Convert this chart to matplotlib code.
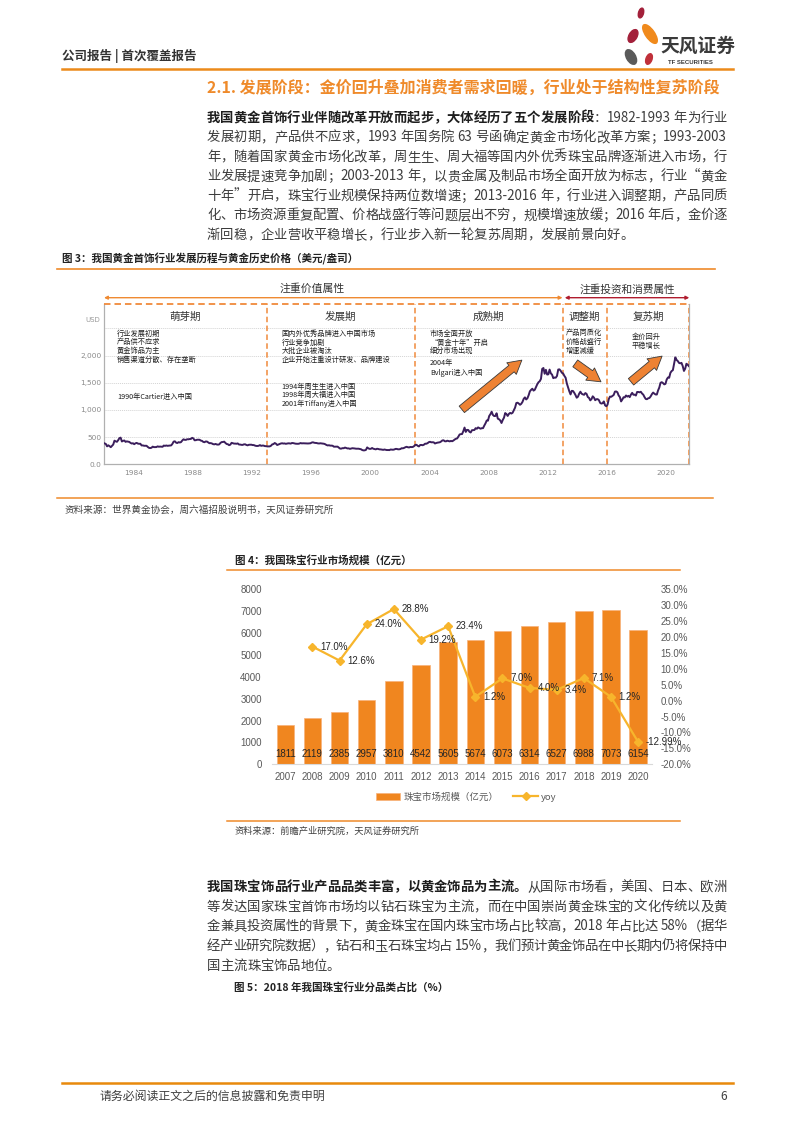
import numpy as np
import matplotlib
matplotlib.use('Agg')
import matplotlib.pyplot as plt
from matplotlib.lines import Line2D
from matplotlib.patches import Ellipse, Rectangle
from matplotlib import font_manager as fm
from matplotlib.ft2font import FT2Font

W, H = 793, 1122
CJK = ['Noto Sans CJK SC', 'DejaVu Sans']
plt.rcParams['font.family'] = CJK
plt.rcParams['axes.unicode_minus'] = False

# ---------------- data: figure 3 (gold price, USD/oz, monthly from Jan 1982) ----------------
gold_start_year = 1982
gold_price = [
    384, 374, 330, 350, 334, 315, 339, 364, 435, 422, 414, 444,
    481, 491, 420, 432, 438, 413, 422, 416, 412, 394, 382, 388,
    370, 386, 394, 381, 377, 378, 347, 348, 341, 340, 341, 320,
    303, 299, 304, 325, 316, 317, 317, 330, 323, 326, 325, 322,
    345, 339, 346, 340, 342, 343, 348, 376, 418, 423, 398, 391,
    408, 401, 409, 438, 460, 450, 450, 461, 460, 465, 467, 487,
    477, 442, 444, 452, 451, 452, 437, 431, 413, 406, 420, 419,
    404, 388, 390, 384, 371, 367, 375, 365, 362, 367, 394, 409,
    410, 417, 393, 374, 369, 352, 362, 395, 389, 381, 381, 378,
    384, 364, 363, 358, 357, 367, 368, 356, 349, 359, 360, 361,
    354, 354, 344, 338, 337, 341, 353, 340, 345, 344, 335, 334,
    329, 329, 330, 342, 367, 372, 392, 379, 355, 364, 373, 383,
    387, 382, 384, 377, 381, 386, 385, 381, 392, 390, 384, 379,
    379, 377, 382, 391, 385, 387, 386, 383, 383, 383, 386, 387,
    400, 405, 397, 393, 392, 385, 383, 387, 383, 381, 378, 369,
    355, 347, 351, 344, 344, 341, 324, 324, 323, 325, 306, 289,
    289, 297, 296, 308, 299, 292, 293, 284, 289, 296, 294, 291,
    287, 288, 287, 282, 277, 262, 256, 257, 265, 311, 293, 284,
    285, 300, 286, 280, 275, 286, 282, 275, 274, 270, 266, 272,
    266, 262, 263, 261, 272, 270, 268, 273, 283, 283, 276, 276,
    282, 296, 294, 302, 314, 322, 314, 310, 319, 317, 319, 333,
    357, 359, 340, 329, 355, 356, 351, 360, 379, 379, 389, 407,
    414, 405, 406, 404, 383, 392, 398, 401, 406, 420, 439, 442,
    424, 423, 434, 429, 422, 430, 424, 438, 456, 470, 476, 510,
    549, 555, 557, 610, 676, 596, 633, 632, 598, 586, 627, 629,
    631, 665, 654, 679, 667, 655, 665, 665, 712, 754, 806, 803,
    889, 922, 968, 909, 888, 889, 939, 839, 829, 806, 760, 816,
    858, 943, 924, 890, 928, 946, 934, 949, 996, 1043, 1127, 1134,
    1118, 1095, 1113, 1148, 1205, 1232, 1193, 1215, 1271, 1343, 1370, 1391,
    1356, 1372, 1424, 1473, 1510, 1529, 1572, 1756, 1772, 1666, 1739, 1652,
    1656, 1743, 1674, 1650, 1585, 1596, 1594, 1626, 1744, 1747, 1721, 1684,
    1671, 1627, 1593, 1487, 1414, 1343, 1286, 1352, 1349, 1316, 1275, 1225,
    1244, 1300, 1336, 1299, 1287, 1279, 1311, 1296, 1238, 1222, 1176, 1200,
    1251, 1227, 1179, 1198, 1199, 1181, 1131, 1117, 1125, 1157, 1086, 1068,
    1097, 1200, 1246, 1242, 1260, 1276, 1337, 1341, 1326, 1267, 1238, 1157,
    1192, 1234, 1231, 1267, 1246, 1260, 1236, 1283, 1315, 1280, 1282, 1265,
    1331, 1331, 1325, 1335, 1303, 1282, 1238, 1202, 1198, 1215, 1221, 1250,
    1291, 1320, 1300, 1285, 1284, 1359, 1413, 1500, 1511, 1495, 1471, 1480,
    1560, 1597, 1592, 1683, 1716, 1732, 1846, 1968, 1921, 1900, 1866, 1858,
    1867, 1808, 1718, 1760, 1850, 1834, 1807,
]
gold_xticks = [1984, 1988, 1992, 1996, 2000, 2004, 2008, 2012, 2016, 2020]
gold_yticks = [0, 500, 1000, 1500, 2000, 2500]
gold_ylabels = ['0.0', '500', '1,000', '1,500', '2,000', '']
stage_bounds = [1993, 2003, 2013, 2016]
stage_names = ['萌芽期', '发展期', '成熟期', '调整期', '复苏期']

# ---------------- data: figure 4 ----------------
years4 = ['2007', '2008', '2009', '2010', '2011', '2012', '2013', '2014',
          '2015', '2016', '2017', '2018', '2019', '2020']
market = [1811, 2119, 2385, 2957, 3810, 4542, 5605, 5674, 6073, 6314, 6527, 6988, 7073, 6154]
yoy_years = years4[1:]
yoy = [17.0, 12.6, 24.0, 28.8, 19.2, 23.4, 1.2, 7.0, 4.0, 3.4, 7.1, 1.2, -12.99]
yoy_labels = ['17.0%', '12.6%', '24.0%', '28.8%', '19.2%', '23.4%', '1.2%', '7.0%',
              '4.0%', '3.4%', '7.1%', '1.2%', '-12.99%']

ORANGE = '#ef8a2a'
DASH_OR = '#f08a3c'

fig = plt.figure(figsize=(W / 100, H / 100), dpi=100)


def fx(px):
    return px / W


def fy(py):
    return 1 - py / H


def hline(x0, x1, y, color, lw):
    fig.add_artist(Line2D([fx(x0), fx(x1)], [fy(y), fy(y)], color=color, lw=lw,
                          transform=fig.transFigure))


# ---------------- text justification helpers ----------------
try:
    from matplotlib.ft2font import LoadFlags
    NOHINT = LoadFlags.NO_HINTING
except Exception:
    NOHINT = 2

_fonts = {}


def _font(weight):
    if weight not in _fonts:
        path = fm.findfont(fm.FontProperties(family='Noto Sans CJK SC', weight=weight))
        _fonts[weight] = FT2Font(path)
    return _fonts[weight]


def adv(text, size, weight):
    f = _font(weight)
    f.set_size(size, 100)
    tot = 0.0
    for ch in text:
        try:
            g = f.load_char(ord(ch), flags=NOHINT)
            tot += g.linearHoriAdvance / 65536.0
        except Exception:
            tot += size * 100 / 72 * 0.5
    return tot


def tokens(segs):
    out = []
    for text, weight, color in segs:
        buf = ''
        for ch in text:
            if ch == ' ':
                if buf:
                    out.append((buf, weight, color))
                    buf = ''
                out.append((' ', weight, color))
            elif ord(ch) < 128:
                buf += ch
            else:
                if buf:
                    out.append((buf, weight, color))
                    buf = ''
                out.append((ch, weight, color))
        if buf:
            out.append((buf, weight, color))
    return out


def draw_line(segs, x0, x1, yc, size, justify=True):
    toks = tokens(segs)
    widths = [adv(t, size, w) for t, w, c in toks]
    total = sum(widths)
    n = len(toks)
    gap = (x1 - x0 - total) / (n - 1) if (justify and n > 1) else 0.0
    base = yc + 0.36 * size * 100 / 72
    x = x0
    for (t, w, c), wd in zip(toks, widths):
        if t != ' ':
            fig.text(fx(x), fy(base), t, fontsize=size, fontweight=w, color=c,
                     va='baseline', ha='left')
        x += wd + gap


BODY = '#3c3c3c'
BOLD = '#1e1e1e'

# ---------------- header ----------------
fig.text(fx(62), fy(56), '公司报告 | 首次覆盖报告', fontsize=9, fontweight='bold',
         color='#333333', va='center', ha='left')
hline(62, 733, 68.5, '#ec8a1a', 1.8)

lg = fig.add_axes([fx(618), fy(68), 40 / W, 62 / H])
lg.set_xlim(618, 658)
lg.set_ylim(68, 6)
lg.axis('off')
lg.add_patch(Ellipse((641, 13), 5, 10, angle=15, color='#a3203a'))
lg.add_patch(Ellipse((650, 34), 9, 22, angle=-35, color='#f08a1c'))
lg.add_patch(Ellipse((633, 36), 8, 14, angle=30, color='#a3203a'))
lg.add_patch(Ellipse((631, 57), 9, 16, angle=-30, color='#5a5a5a'))
lg.add_patch(Ellipse((649, 59), 6, 11, angle=20, color='#c0303a'))
fig.text(fx(660), fy(46), '天风证券', fontsize=13.5, fontweight='bold', color='#3a3a3a',
         va='center', ha='left')
fig.text(fx(668), fy(62), 'TF SECURITIES', fontsize=4.3, fontweight='bold', color='#3a3a3a',
         va='center', ha='left', family=['Liberation Sans', 'DejaVu Sans'])

# ---------------- section title & paragraph 1 ----------------
fig.text(fx(207), fy(88), '2.1. 发展阶段：金价回升叠加消费者需求回暖，行业处于结构性复苏阶段',
         fontsize=11.5, fontweight='bold', color=ORANGE, va='center', ha='left')

para1 = [
    [('我国黄金首饰行业伴随改革开放而起步，大体经历了五个发展阶段', 'bold', BOLD),
     ('：1982-1993 年为行业', 'normal', BODY)],
    [('发展初期，产品供不应求，1993 年国务院 63 号函确定黄金市场化改革方案；1993-2003', 'normal', BODY)],
    [('年，随着国家黄金市场化改革，周生生、周大福等国内外优秀珠宝品牌逐渐进入市场，行', 'normal', BODY)],
    [('业发展提速竞争加剧；2003-2013 年，以贵金属及制品市场全面开放为标志，行业“黄金', 'normal', BODY)],
    [('十年”开启，珠宝行业规模保持两位数增速；2013-2016 年，行业进入调整期，产品同质', 'normal', BODY)],
    [('化、市场资源重复配置、价格战盛行等问题层出不穷，规模增速放缓；2016 年后，金价逐', 'normal', BODY)],
    [('渐回稳，企业营收平稳增长，行业步入新一轮复苏周期，发展前景向好。', 'normal', BODY)],
]
for i, segs in enumerate(para1):
    draw_line(segs, 207, 727, 117 + i * 19.5, 9.6, justify=(i < len(para1) - 1))

# ---------------- figure 3 ----------------
fig.text(fx(62), fy(259), '图 3：我国黄金首饰行业发展历程与黄金历史价格（美元/盎司）',
         fontsize=7.6, fontweight='bold', color='#222222', va='center', ha='left')
hline(57, 715, 269, ORANGE, 1.2)

ax = fig.add_axes([fx(104), fy(464.3), (689.3 - 104) / W, (464.3 - 304) / H])
gold_x = gold_start_year + (np.arange(len(gold_price)) + 0.5) / 12.0
XL, XR, YT = 1982.0, 2021.57, 2950
ax.set_xlim(XL, XR)
ax.set_ylim(0, YT)
ax.plot(gold_x, gold_price, color='#3b1e5c', lw=1.4, zorder=4)
ax.set_xticks(gold_xticks)
ax.set_xticklabels([str(t) for t in gold_xticks])
ax.set_yticks(gold_yticks)
ax.set_yticklabels(gold_ylabels)
ax.tick_params(length=0, labelsize=5.3, labelcolor='#8a8a8a')
ax.tick_params(axis='y', pad=1.7)
ax.tick_params(axis='x', pad=3.9)
for lab in ax.get_xticklabels() + ax.get_yticklabels():
    lab.set_family(['DejaVu Sans'])
ax.grid(axis='y', color='#d4d4d4', lw=0.7, linestyle=(0, (1, 1)))
ax.set_axisbelow(True)
for s in ['left', 'bottom', 'right']:
    ax.spines[s].set_color('#b0b0b0')
    ax.spines[s].set_linewidth(0.9)
ax.spines['top'].set_visible(False)
ax.vlines(stage_bounds + [XR], 0, YT, colors=DASH_OR, linestyles=(0, (3.6, 2.2)), lw=1.1, zorder=3)
ax.hlines(YT, XL, XR, colors=DASH_OR, linestyles=(0, (3.6, 2.2)), lw=1.3, clip_on=False, zorder=3)
ax.text(1981.77, 2653, 'USD', fontsize=5, color='#9a9a9a', ha='right', va='center',
        family=['DejaVu Sans'])

# top brackets
ax.annotate('', xy=(2013.0, 3066), xytext=(XL, 3066), annotation_clip=False,
            arrowprops=dict(arrowstyle='<|-|>', color='#ef8a32', lw=1.0, mutation_scale=5,
                            shrinkA=0, shrinkB=0))
ax.annotate('', xy=(XR, 3066), xytext=(2013.15, 3066), annotation_clip=False,
            arrowprops=dict(arrowstyle='<|-|>', color='#b01c2e', lw=1.0, mutation_scale=5,
                            shrinkA=0, shrinkB=0))
ax.text(1996.1, 3241, '注重价值属性', fontsize=7.8, color='#333333', ha='center', va='center')
ax.text(2017.4, 3215, '注重投资和消费属性', fontsize=7.7, color='#333333', ha='center', va='center')

# stage names
bounds = [XL] + stage_bounds + [XR]
for i, nm in enumerate(stage_names):
    ax.text((bounds[i] + bounds[i + 1]) / 2, 2708, nm, fontsize=7.6, color='#333333',
            ha='center', va='center')

SM = 5.2
TX = '#1e1e1e'


def block(x, ys, lines, ha='left'):
    for yv, s in zip(ys, lines):
        ax.text(x, yv, s, fontsize=SM, color=TX, ha=ha, va='center')


rows4 = [2408, 2243, 2083, 1917]
block(1982.85, rows4, ['行业发展初期', '产品供不应求', '黄金饰品为主', '销售渠道分散、存在垄断'])
block(1982.9, [1237], ['1990年Cartier进入中国'])
block(1994.0, rows4, ['国内外优秀品牌进入中国市场', '行业竞争加剧', '大批企业被淘汰',
                      '企业开始注重设计研发、品牌建设'])
block(1994.0, [1426, 1268, 1108], ['1994年周生生进入中国', '1998年周大福进入中国',
                                   '2001年Tiffany进入中国'])
block(2004.04, rows4[:3], ['市场全面开放', '“黄金十年”开启', '细分市场出现'])
block(2004.04, [1857, 1678], ['2004年', 'Bvlgari进入中国'])
block(2013.2, rows4[:3], ['产品同质化', '价格战盛行', '增速减缓'])
block(2018.64, [2335, 2175], ['金价回升', '平稳增长'], ha='center')

# trend arrows
arrow_kw = dict(arrowstyle='simple,head_width=0.9,head_length=0.8,tail_width=0.5',
                mutation_scale=12, fc='#ee8233', ec='#3a3a3a', lw=0.6, shrinkA=0, shrinkB=0)
for (x0, y0), (x1, y1) in [((2006.19, 1011), (2010.25, 1917)),
                           ((2013.86, 1857), (2015.6, 1518)),
                           ((2017.63, 1518), (2019.73, 1991))]:
    ax.annotate('', xy=(x1, y1), xytext=(x0, y0), arrowprops=arrow_kw, zorder=6)

hline(57, 713, 498, ORANGE, 1.1)
fig.text(fx(65), fy(510), '资料来源：世界黄金协会，周六福招股说明书，天风证券研究所',
         fontsize=6.9, color='#404040', va='center', ha='left')

# ---------------- figure 4 ----------------
fig.text(fx(235), fy(560), '图 4：我国珠宝行业市场规模（亿元）', fontsize=7.6, fontweight='bold',
         color='#222222', va='center', ha='left')
hline(227, 680, 570, ORANGE, 1.1)

NUM = ['Liberation Sans', 'Noto Sans CJK SC']
bx = fig.add_axes([fx(271.7), fy(764.3), (651.7 - 271.7) / W, (764.3 - 589.3) / H])
idx = np.arange(len(years4))
bars = bx.bar(idx, market, width=0.64, color='#f0861f', edgecolor='#f7b27a', lw=0.5,
              label='珠宝市场规模（亿元）', zorder=2)
bx.set_xlim(-0.5, len(years4) - 0.5)
bx.set_ylim(0, 8000)
bx.set_yticks(np.arange(0, 8001, 1000))
bx.set_xticks(idx)
bx.set_xticklabels(years4)
bx.tick_params(length=0, labelsize=7, labelcolor='#595959')
bx.tick_params(axis='y', pad=7.2)
bx.tick_params(axis='x', pad=5.6)
for lab in bx.get_xticklabels() + bx.get_yticklabels():
    lab.set_family(NUM)
for s in ['left', 'right', 'top']:
    bx.spines[s].set_visible(False)
bx.spines['bottom'].set_color('#d9d9d9')
for i, v in enumerate(market):
    bx.text(i, 450, str(v), ha='center', va='center', fontsize=7, color='#262626',
            family=NUM, zorder=5)

bx2 = bx.twinx()
bx2.set_ylim(-20, 35)
pticks = np.arange(-20, 36, 5)
bx2.set_yticks(pticks)
bx2.set_yticklabels(['%.1f%%' % t for t in pticks])
bx2.tick_params(length=0, labelsize=7, labelcolor='#595959', pad=6.5)
for lab in bx2.get_yticklabels():
    lab.set_family(NUM)
for s in ['left', 'right', 'top', 'bottom']:
    bx2.spines[s].set_visible(False)
yidx = idx[1:]
line, = bx2.plot(yidx, yoy, color='#f7b52c', lw=1.6, marker='D', markersize=3.8,
                 label='yoy', zorder=3)
for xi, v, s in zip(yidx, yoy, yoy_labels):
    bx2.annotate(s, (xi, v), xytext=(5.6, 0), textcoords='offset points', ha='left',
                 va='center', fontsize=7, color='#262626', family=NUM, zorder=6)

leg = bx.legend(handles=[bars, line], loc='center', bbox_to_anchor=(fx(466), fy(797)),
                bbox_transform=fig.transFigure, ncol=2, frameon=False, fontsize=6.8,
                handlelength=2.6, handleheight=0.8, columnspacing=1.6, handletextpad=0.3,
                labelcolor='#595959')

hline(227, 680, 820.5, ORANGE, 1.1)
fig.text(fx(235), fy(831), '资料来源：前瞻产业研究院，天风证券研究所', fontsize=6.7,
         color='#404040', va='center', ha='left')

# ---------------- paragraph 2 ----------------
para2 = [
    [('我国珠宝饰品行业产品品类丰富，以黄金饰品为主流。', 'bold', BOLD),
     ('从国际市场看，美国、日本、欧洲', 'normal', BODY)],
    [('等发达国家珠宝首饰市场均以钻石珠宝为主流，而在中国崇尚黄金珠宝的文化传统以及黄', 'normal', BODY)],
    [('金兼具投资属性的背景下，黄金珠宝在国内珠宝市场占比较高，2018 年占比达 58%（据华', 'normal', BODY)],
    [('经产业研究院数据），钻石和玉石珠宝均占 15%，我们预计黄金饰品在中长期内仍将保持中', 'normal', BODY)],
    [('国主流珠宝饰品地位。', 'normal', BODY)],
]
for i, segs in enumerate(para2):
    draw_line(segs, 207, 727, 886 + i * 19.75, 9.6, justify=(i < len(para2) - 1))

fig.text(fx(234), fy(987), '图 5：2018 年我国珠宝行业分品类占比（%）', fontsize=7.6,
         fontweight='bold', color='#222222', va='center', ha='left')

# ---------------- footer ----------------
hline(62, 733, 1083, '#e8890c', 1.8)
fig.text(fx(100), fy(1096), '请务必阅读正文之后的信息披露和免责申明', fontsize=8.6,
         color='#404040', va='center', ha='left')
fig.text(fx(727), fy(1096), '6', fontsize=8.6, color='#404040', va='center', ha='right')

fig.savefig('out.png', dpi=100)
